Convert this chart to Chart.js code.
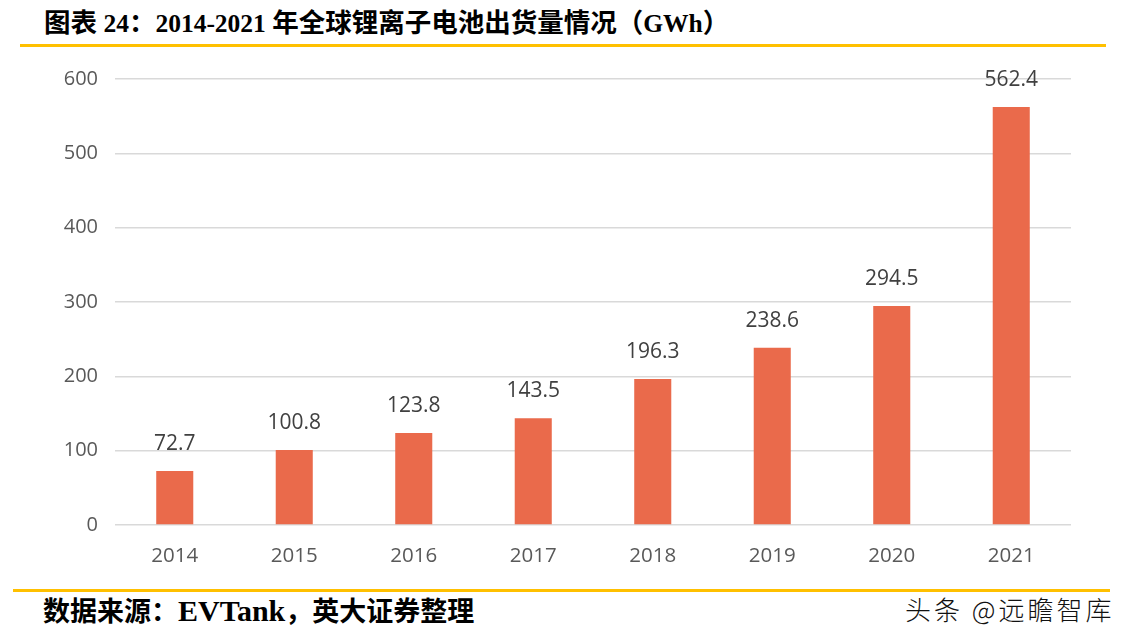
<!DOCTYPE html>
<html><head><meta charset="utf-8">
<script src="https://cdn.jsdelivr.net/npm/chart.js@4"></script>
<style>
html,body{margin:0;padding:0;background:#fff;width:1130px;height:642px;overflow:hidden;position:relative;}
#title{position:absolute;left:44px;top:5px;font-family:"Noto Sans CJK SC",sans-serif;font-weight:bold;font-size:26.5px;line-height:32px;color:#000;white-space:nowrap;}
#title .m{font-family:"Liberation Serif",serif;font-size:25.5px;font-weight:bold;}
#line1{position:absolute;left:20px;top:44px;width:1086px;height:3px;background:#FFC000;}
#line2{position:absolute;left:13px;top:589px;width:1097px;height:3px;background:#FFC000;}
#src{position:absolute;left:43px;top:593px;font-family:"Noto Sans CJK SC",sans-serif;font-weight:bold;font-size:27px;line-height:34px;color:#000;white-space:nowrap;}
#src .r{font-family:"Liberation Serif",serif;font-size:30px;}
#wm{position:absolute;left:905px;top:592px;font-family:"Noto Sans CJK SC",sans-serif;font-weight:300;font-size:26px;letter-spacing:3px;line-height:34px;color:#111;white-space:nowrap;}
#wrap{position:absolute;left:0;top:50px;width:1130px;height:530px;}
</style></head><body>
<div id="title">图表<span class="m"> 24</span>：<span class="m">2014-2021 </span>年全球锂离子电池出货量情况（<span class="m">GWh</span>）</div>
<div id="line1"></div>
<div id="wrap"><canvas id="c" width="1130" height="530"></canvas></div>
<div id="line2"></div>
<div id="src">数据来源：<span class="r">EVTank</span>，英大证券整理</div>
<div id="wm">头条 @远瞻智库</div>
<script>
const categories = ["2014","2015","2016","2017","2018","2019","2020","2021"];
const shipments = [72.7,100.8,123.8,143.5,196.3,238.6,294.5,562.4];
const yTicks = [0,100,200,300,400,500,600];

const labelPlugin = {
  id:'barLabels',
  afterDatasetsDraw(chart){
    const ctx = chart.ctx;
    const meta = chart.getDatasetMeta(0);
    ctx.save();
    ctx.font = '21px "Open Sans", sans-serif';
    ctx.fillStyle = '#404040';
    ctx.textAlign = 'center';
    ctx.textBaseline = 'alphabetic';
    meta.data.forEach((bar,i)=>{
      ctx.fillText(shipments[i].toFixed(1), bar.x, bar.y - 21);
    });
    ctx.restore();
  }
};

new Chart(document.getElementById('c'),{
  type:'bar',
  data:{labels:categories,datasets:[{data:shipments,backgroundColor:'#EA6A4B',barPercentage:0.62,categoryPercentage:0.5}]},
  options:{
    responsive:false,animation:false,
    layout:{padding:{top:6,right:59,bottom:0,left:0}},
    plugins:{legend:{display:false},tooltip:{enabled:false}},
    scales:{
      x:{grid:{display:false},border:{display:false},
         ticks:{color:'#595959',font:{family:'"Open Sans", sans-serif',size:20.5},padding:11},
         afterFit(s){s.height=55;}},
      y:{min:0,max:600,
         afterBuildTicks(s){s.ticks=yTicks.map(v=>({value:v}));},
         grid:{color:'#D9D9D9',lineWidth:1.5,drawTicks:false},border:{display:false},
         ticks:{color:'#595959',font:{family:'"Open Sans", sans-serif',size:20},padding:17},
         afterFit(s){s.width=115;}}
    }
  },
  plugins:[labelPlugin]
});
</script>
</body></html>
